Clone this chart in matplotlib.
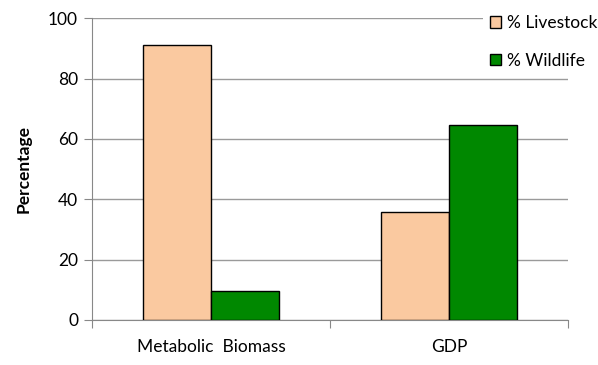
import matplotlib
matplotlib.use("Agg")
import matplotlib.pyplot as plt
from matplotlib.patches import Rectangle
import numpy as np

categories = ["Metabolic  Biomass", "GDP"]
livestock = [91.3, 35.9]
wildlife = [9.7, 64.5]
series_names = ["% Livestock", "% Wildlife"]
yticks = [0, 20, 40, 60, 80, 100]

plt.rcParams['font.family'] = ['Lato', 'DejaVu Sans']

W, H = 598, 365
fig = plt.figure(figsize=(W/100, H/100), dpi=100)
ax = fig.add_axes([92/W, 1-320/H, (568-92)/W, (320-18.3)/H])

x = np.arange(len(categories))
w = 0.284
c_live = '#FAC9A0'
c_wild = '#008800'
ax.bar(x - w/2, livestock, w, color=c_live, edgecolor='black', linewidth=1.0, label=series_names[0], zorder=3)
ax.bar(x + w/2, wildlife, w, color=c_wild, edgecolor='black', linewidth=1.0, label=series_names[1], zorder=3)

ax.set_xlim(-0.5, 1.5)
ax.set_ylim(0, 100)
ax.set_yticks(yticks)
ax.set_yticklabels([str(t) for t in yticks], fontsize=12.5)
ax.set_xticks([-0.5, 0.5, 1.5])
ax.set_xticklabels([])
ax.set_xticks(x, minor=True)
ax.set_xticklabels(categories, minor=True, fontsize=12.5)
ax.tick_params(axis='x', which='minor', length=0, pad=14)
ax.tick_params(axis='x', which='major', length=6, color='#888888', direction='out')
ax.tick_params(axis='y', length=6, color='#888888', pad=4)
ax.grid(axis='y', color='#9a9a9a', linewidth=1.0, zorder=0)
for s in ['top', 'right']:
    ax.spines[s].set_visible(False)
for s in ['left', 'bottom']:
    ax.spines[s].set_color('#888888')
ax.set_ylabel("Percentage", fontsize=12.5, fontweight='bold', labelpad=12)

# white legend background covering the gridlines
fig.patches.append(Rectangle((483/W, 1-75/H), (W-483)/W, 70/H, transform=fig.transFigure,
                             facecolor='white', edgecolor='none', zorder=2))

leg = fig.legend(loc='upper left', bbox_to_anchor=(490/W, 1-15/H), frameon=False,
                 fontsize=12.5, handlelength=0.65, handleheight=0.65, handletextpad=0.35,
                 labelspacing=1.25, borderaxespad=0, borderpad=0)
leg.set_zorder(5)

fig.savefig("out.png", dpi=100)
